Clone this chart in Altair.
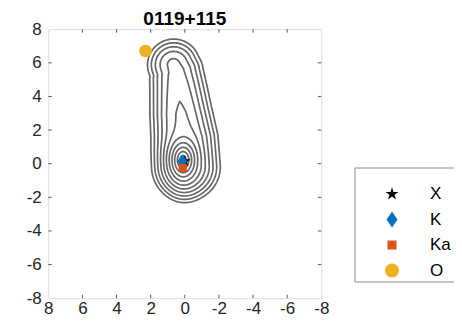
import numpy as np
import pandas as pd
import altair as alt

# ---------------- data ----------------
title_text = "0119+115"
tick_values = [-8, -6, -4, -2, 0, 2, 4, 6, 8]

# brightness model (mas)
core_pos = (0.10, 0.22)          # core centre x, y
core_len = 0.24                  # exponential scale length (x)
core_taper = 1.3                 # gaussian taper radius
core_axis_ratio = 1.5            # N-S elongation of the core
ridge_x = [-0.08, 0.02, 0.22, 0.38, 0.50, 0.65]
ridge_y = [-0.20, 1.50, 3.00, 4.50, 5.50, 5.88]
ridge_log2_amp = [-5.6, -5.65, -5.7, -6.05, -6.35, -6.45]
ridge_radius = [0.88, 0.86, 0.74, 0.66, 0.62, 0.60]
edge_width = 0.30
contour_log2_levels = [-1, -2, -3, -4, -5, -6, -7, -8, -9, -10, -11]

# positions of the bands
names = ["X", "K", "Ka", "O"]
pos_x = [0.0, 0.15, 0.12, 2.3]
pos_y = [0.15, 0.15, -0.25, 6.7]
colors = ["#000000", "#0072BD", "#D95319", "#EDB120"]

# ---------------- contour computation ----------------
xs = np.arange(-4.0, 4.0001, 0.05)
ys = np.arange(-4.0, 9.5001, 0.05)
X, Y = np.meshgrid(xs, ys)


def brightness(X, Y):
    dx = X - core_pos[0]
    dy = (Y - core_pos[1]) / core_axis_ratio
    q = np.sqrt(dx ** 2 + dy ** 2)
    core = np.exp(-q / core_len) * np.exp(-(q / core_taper) ** 2)
    best = np.full(X.shape, np.inf)
    A = np.zeros(X.shape)
    R = np.zeros(X.shape)
    for k in range(len(ridge_x) - 1):
        x0, y0, x1, y1 = ridge_x[k], ridge_y[k], ridge_x[k + 1], ridge_y[k + 1]
        vx, vy = x1 - x0, y1 - y0
        t = np.clip(((X - x0) * vx + (Y - y0) * vy) / (vx * vx + vy * vy), 0, 1)
        d = np.hypot(X - (x0 + t * vx), Y - (y0 + t * vy))
        a = ridge_log2_amp[k] + t * (ridge_log2_amp[k + 1] - ridge_log2_amp[k])
        r = ridge_radius[k] + t * (ridge_radius[k + 1] - ridge_radius[k])
        m = d < best
        best = np.where(m, d, best)
        A = np.where(m, a, A)
        R = np.where(m, r, R)
    tube = 2.0 ** A / (1.0 + np.exp((best - R) / edge_width))
    return core + tube


Z = brightness(X, Y)


def trace(level):
    a = Z >= level

    def pt(key):
        kind, i, j = key
        if kind == "h":
            z0, z1 = Z[j, i], Z[j, i + 1]
            t = (level - z0) / (z1 - z0)
            return xs[i] + t * (xs[i + 1] - xs[i]), ys[j]
        z0, z1 = Z[j, i], Z[j + 1, i]
        t = (level - z0) / (z1 - z0)
        return xs[i], ys[j] + t * (ys[j + 1] - ys[j])

    mixed = (a[:-1, :-1] != a[:-1, 1:]) | (a[:-1, :-1] != a[1:, :-1]) | (a[:-1, :-1] != a[1:, 1:])
    adj = {}
    for j, i in np.argwhere(mixed):
        j = int(j); i = int(i)
        a00, a10, a01, a11 = a[j, i], a[j, i + 1], a[j + 1, i], a[j + 1, i + 1]
        e = []
        if a00 != a10: e.append(("h", i, j))
        if a10 != a11: e.append(("v", i + 1, j))
        if a01 != a11: e.append(("h", i, j + 1))
        if a00 != a01: e.append(("v", i, j))
        if len(e) == 2:
            pairs = [(e[0], e[1])]
        elif len(e) == 4:
            b, r, t, l = e
            c = (Z[j, i] + Z[j, i + 1] + Z[j + 1, i] + Z[j + 1, i + 1]) / 4
            pairs = [(b, r), (t, l)] if (c >= level) == a00 else [(b, l), (r, t)]
        else:
            pairs = []
        for p, q in pairs:
            adj.setdefault(p, []).append(q)
            adj.setdefault(q, []).append(p)
    paths = []
    seen = set()
    for start in adj:
        if start in seen:
            continue
        path = [start]
        seen.add(start)
        prev, cur = None, start
        while True:
            nxt = [n for n in adj[cur] if n != prev and n not in seen]
            if not nxt:
                if start in adj[cur] and len(path) > 2:
                    path.append(start)
                break
            prev, cur = cur, nxt[0]
            path.append(cur)
            seen.add(cur)
        paths.append([pt(k) for k in path])
    return paths


rows = []
pid = 0
for lv in contour_log2_levels:
    for path in trace(2.0 ** lv):
        for n, (px, py) in enumerate(path):
            rows.append({"path": pid, "order": n, "x": round(float(px), 3), "y": round(float(py), 3)})
        pid += 1
cdf = pd.DataFrame(rows)

# ---------------- symbols ----------------
def star_path(R):
    pts = []
    for k in range(10):
        rr = R if k % 2 == 0 else R * 0.382
        ang = -np.pi / 2 + k * np.pi / 5
        pts.append((rr * np.cos(ang), rr * np.sin(ang)))
    return "M" + "L".join(f"{x:.3f},{y:.3f}" for x, y in pts) + "Z"


def circle_path(r):
    return f"M{-r},0A{r},{r} 0 1,0 {r},0A{r},{r} 0 1,0 {-r},0Z"


shapes = [
    star_path(0.68),
    "M0,-0.8L0.55,0L0,0.8L-0.55,0Z",
    "M-0.45,-0.45H0.45V0.45H-0.45Z",
    circle_path(0.7),
]

pdf = pd.DataFrame({"name": names, "x": pos_x, "y": pos_y})
ticks_df = pd.DataFrame({"v": [v for v in tick_values if abs(v) < 8]})
title_df = pd.DataFrame({"t": [title_text]})
frame_df = pd.DataFrame({"f": [0]})

# ---------------- chart ----------------
W, H = 273, 269
PAD_T, PAD_L = 21.2, 40.3
TOTAL_W, TOTAL_H = 446, 309
box_color = "#5a5a5a"
font = "Liberation Sans"

xscale = alt.Scale(domain=[-8, 8], reverse=True, nice=False, zero=False)
yscale = alt.Scale(domain=[-8, 8], nice=False, zero=False)
xaxis = alt.Axis(values=tick_values, title=None, ticks=False, domain=False, grid=False,
                 labelFontSize=17, labelFont=font, labelColor="#262626",
                 labelBaseline="alphabetic", labelPadding=14.8,
                 labelFlush=False, labelOverlap=False, labelExpr="'' + datum.value")
yaxis = alt.Axis(values=tick_values, title=None, ticks=False, domain=False, grid=False,
                 labelFontSize=17, labelFont=font, labelColor="#262626", labelPadding=7,
                 labelFlush=False, labelOverlap=False, labelExpr="'' + datum.value")

contours = alt.Chart(cdf).mark_line(color="#676767", strokeWidth=1.7, clip=True,
                                    strokeJoin="round", strokeCap="round").encode(
    x=alt.X("x:Q", scale=xscale, axis=xaxis),
    y=alt.Y("y:Q", scale=yscale, axis=yaxis),
    detail="path:N",
    order="order:Q",
)

tk = dict(color=box_color, strokeWidth=1)
t_bottom = alt.Chart(ticks_df).mark_rule(**tk).encode(
    x=alt.X("v:Q", scale=xscale, axis=xaxis), y=alt.value(H), y2=alt.value(H - 3.5))
t_top = alt.Chart(ticks_df).mark_rule(**tk).encode(
    x=alt.X("v:Q", scale=xscale, axis=xaxis), y=alt.value(0), y2=alt.value(3.5))
t_left = alt.Chart(ticks_df).mark_rule(**tk).encode(
    y=alt.Y("v:Q", scale=yscale, axis=yaxis), x=alt.value(0), x2=alt.value(3.5))
t_right = alt.Chart(ticks_df).mark_rule(**tk).encode(
    y=alt.Y("v:Q", scale=yscale, axis=yaxis), x=alt.value(W), x2=alt.value(W - 3.5))

title = alt.Chart(title_df).mark_text(font=font, fontSize=19, fontWeight="bold", color="#000000",
                                      align="center", baseline="alphabetic").encode(
    text="t:N", x=alt.value(W / 2), y=alt.value(-4.0))

# legend frame: runs off the right edge of the chart as in the reference
frame = alt.Chart(frame_df).mark_rect(fill="#ffffff", stroke="#8c8c8c", strokeWidth=1,
                                      clip=False).encode(
    x=alt.value(306.7), x2=alt.value(430), y=alt.value(138.8), y2=alt.value(252.8))

legend = alt.Legend(title=None, orient="none", legendX=311.7, legendY=140.8,
                    padding=14, symbolSize=400, symbolOffset=8, labelOffset=28,
                    rowPadding=7.5, labelFontSize=17, labelFont=font, labelColor="#000000",
                    strokeColor="transparent", fillColor="transparent", symbolStrokeWidth=0,
                    symbolOpacity=1)

points = alt.Chart(pdf).mark_point(filled=True, opacity=1, size=324, strokeWidth=0).encode(
    x=alt.X("x:Q", scale=xscale, axis=xaxis),
    y=alt.Y("y:Q", scale=yscale, axis=yaxis),
    shape=alt.Shape("name:N", scale=alt.Scale(domain=names, range=shapes), legend=legend),
    color=alt.Color("name:N", scale=alt.Scale(domain=names, range=colors), legend=legend),
)

chart = alt.layer(frame, contours, t_bottom, t_top, t_left, t_right, points, title).properties(
    width=W, height=H,
    autosize=alt.AutoSizeParams(type="none"),
    padding={"left": PAD_L, "top": PAD_T, "right": TOTAL_W - PAD_L - W,
             "bottom": TOTAL_H - PAD_T - H},
).configure_view(stroke=box_color, strokeWidth=1).configure(background="white")

chart.save("out.html", embed_options={"renderer": "svg", "actions": False})
